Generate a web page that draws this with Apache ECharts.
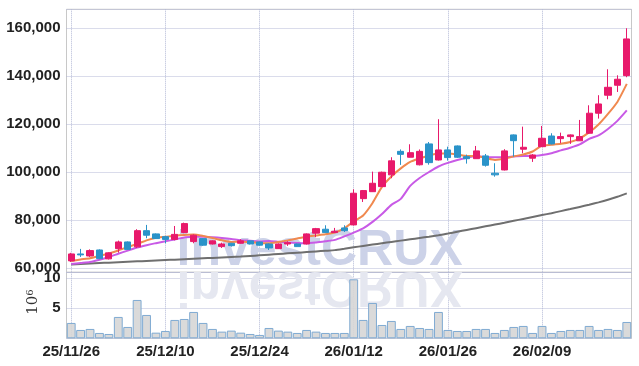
<!DOCTYPE html>
<html>
<head>
<meta charset="utf-8">
<script src="https://cdn.jsdelivr.net/npm/echarts@6/dist/echarts.min.js"></script>
<style>
  html, body { margin: 0; padding: 0; background: #fff; }
  #chart { width: 639px; height: 366px; }
</style>
</head>
<body>
<div id="chart"></div>
<script>
// trading days (YY/MM/DD)
var dates = [
  '25/11/26','25/11/27','25/11/28','25/12/01','25/12/02','25/12/03','25/12/04','25/12/05','25/12/08','25/12/09',
  '25/12/10','25/12/11','25/12/12','25/12/15','25/12/16','25/12/17','25/12/18','25/12/19','25/12/22','25/12/23',
  '25/12/24','25/12/26','25/12/29','25/12/30','26/01/02','26/01/05','26/01/06','26/01/07','26/01/08','26/01/09',
  '26/01/12','26/01/13','26/01/14','26/01/15','26/01/16','26/01/19','26/01/20','26/01/21','26/01/22','26/01/23',
  '26/01/26','26/01/27','26/01/28','26/01/29','26/01/30','26/02/02','26/02/03','26/02/04','26/02/05','26/02/06',
  '26/02/09','26/02/10','26/02/11','26/02/12','26/02/13','26/02/19','26/02/20','26/02/23','26/02/24','26/02/25'
];

var opens = [
  63050, 65950, 65100, 67600, 63900, 68150, 70950, 68900, 75650, 74300,
  73150, 72000, 74850, 71100, 72350, 70100, 69000, 70400, 70400, 71400,
  70950, 70100, 68150, 70100, 70100, 70100, 74600, 76250, 74850, 76800,
  78050, 89000, 91900, 94000, 98900, 108700, 106250, 103100, 111800, 105100,
  109300, 110950, 106500, 105650, 106800, 99600, 100950, 115550, 109600, 105850,
  110650, 115100, 114000, 114850, 113100, 116250, 124600, 132100, 136250, 140250
];
var closes = [
  65950, 65550, 67350, 64000, 66400, 70950, 67850, 75650, 73750, 72350,
  72000, 74100, 78600, 73750, 69600, 71400, 70100, 69400, 71400, 70100,
  69600, 68450, 70100, 70650, 69000, 74300, 76500, 74850, 75400, 75650,
  91250, 92350, 95400, 100000, 104750, 107450, 108150, 108700, 104000, 109300,
  106100, 106250, 105650, 108900, 102900, 98900, 108900, 113150, 110400, 107200,
  114150, 111800, 114850, 115550, 114850, 124600, 128450, 135400, 138750, 155550
];
var lows = [
  62600, 64700, 64700, 63750, 63650, 66500, 67600, 68450, 72500, 72200,
  70400, 71600, 74600, 70400, 69300, 69900, 68450, 69000, 70250, 69900,
  69400, 67600, 68050, 69300, 68900, 69900, 72900, 74700, 74700, 75100,
  77850, 87600, 91800, 93850, 97500, 103050, 106150, 102850, 103150, 104900,
  104850, 105950, 103600, 105550, 102350, 98150, 100750, 106500, 107900, 104300,
  110550, 111600, 112100, 111800, 113050, 115950, 122350, 130400, 133450, 139600
];
var highs = [
  66400, 68050, 67850, 67850, 66600, 71500, 71150, 76250, 78050, 74500,
  73450, 77600, 79000, 74100, 72600, 71600, 70650, 70550, 72100, 71500,
  71100, 70350, 70350, 71250, 70250, 74500, 76800, 77900, 76800, 77900,
  92900, 92600, 100250, 100250, 106250, 109500, 111650, 109500, 112600, 122100,
  110650, 111150, 107350, 110950, 107600, 103750, 109600, 115750, 119000, 107600,
  119300, 116250, 116500, 115750, 121800, 127900, 132100, 142900, 140400, 160000
];

// moving averages
var maShort = [
  63050, 63650, 64200, 65100, 66100, 67400, 68900, 70100, 71600, 72700,
  73100, 73550, 73850, 74050, 73450, 72600, 71650, 70900, 71150, 70800,
  70550, 70400, 70950, 71600, 72400, 73150, 73650, 74150, 74900, 76600,
  79500, 82000, 87200, 93900, 98250, 101600, 104300, 105750, 107000, 107850,
  107800, 107400, 106800, 106800, 105950, 105150, 105600, 106600, 107400, 108650,
  111100, 111450, 111850, 112600, 114100, 116600, 119900, 124300, 129300, 136800
];
var maMid = [
  61800, 62200, 62600, 63550, 64700, 66050, 67350, 68650, 69600, 70450,
  71200, 72000, 72850, 73100, 73150, 72900, 72600, 72200, 71650, 71450,
  71150, 71350, 71050, 70750, 70550, 70400, 70750, 71250, 71800, 73250,
  74850, 76600, 79300, 82600, 86400, 88900, 94300, 97600, 100100, 102400,
  103900, 105100, 106050, 106650, 106400, 106250, 106250, 106600, 106800, 106800,
  107200, 107950, 109100, 110200, 111600, 113900, 115350, 118050, 121400, 125750
];
var maLong = [
  61600, 61780, 61960, 62140, 62320, 62500, 62680, 62860, 63040, 63220,
  63400, 63580, 63760, 63940, 64120, 64300, 64480, 64660, 64840, 65110,
  65380, 65650, 65920, 66190, 66460, 66730, 67000, 67270, 67540, 68100,
  68700, 69300, 69850, 70400, 70950, 71500, 72050, 72600, 73150, 73750,
  74450, 75200, 75950, 76700, 77450, 78200, 78950, 79750, 80550, 81350,
  82150, 82950, 83800, 84650, 85550, 86450, 87450, 88550, 89800, 91200
];

// volume, in millions
var volumes = [
  2.56, 1.39, 1.56, 0.89, 0.72, 3.56, 1.89, 6.39, 3.89, 0.94,
  1.22, 3.06, 3.22, 4.39, 2.56, 1.56, 1.11, 1.28, 0.94, 0.72,
  0.56, 1.72, 1.28, 1.11, 0.89, 1.39, 1.11, 0.89, 0.89, 0.89,
  9.83, 3.06, 5.89, 2.22, 2.89, 1.56, 2.06, 1.72, 1.56, 4.39,
  1.39, 1.22, 1.22, 1.56, 1.56, 0.89, 1.39, 1.89, 2.06, 0.89,
  2.06, 0.89, 1.22, 1.39, 1.39, 2.06, 1.39, 1.56, 1.39, 2.72
];

var candles = opens.map(function (o, i) {
  return [o, closes[i], lows[i], highs[i]];
});

var upColor = '#e8196b';
var downColor = '#2a93c9';
var gridLine = '#b4b9d6';
var frame = '#c8c8c8';
var labelFont = {
  color: '#222',
  fontFamily: '"Liberation Sans Narrow", "Liberation Sans", sans-serif',
  fontWeight: 'bold',
  fontSize: 15
};

var chart = echarts.init(document.getElementById('chart'));

var option = {
  animation: false,
  backgroundColor: '#fff',
  grid: [
    { left: 66.5, right: 7.5, top: 9.3, height: 263, show: true, borderColor: frame, borderWidth: 1, backgroundColor: 'transparent' },
    { left: 66.5, right: 7.5, top: 272.3, height: 66, show: true, borderColor: frame, borderWidth: 1, backgroundColor: 'transparent' }
  ],
  graphic: [
    {
      type: 'text', z: 1, x: 176.5, y: 268.3, scaleY: -1,
      style: { text: 'investCRUX', x: 0, y: -17.5, verticalAlign: 'middle', fill: '#e5e7f0',
        font: 'bold 50px "Liberation Sans", sans-serif' }
    },
    {
      type: 'text', z: 1, x: 176.5, y: 268.3,
      style: { text: 'investCRUX', x: 0, y: -17.5, verticalAlign: 'middle', fill: '#ccd2e8',
        font: 'bold 50px "Liberation Sans", sans-serif' }
    },
    {
      // volume unit, written bottom-to-top
      type: 'text', z: 10, x: 33, y: 302, rotation: Math.PI / 2,
      style: {
        text: '10{s|6}', align: 'center', verticalAlign: 'middle',
        fill: '#333', font: '15px "DejaVu Serif", serif',
        rich: { s: { fontSize: 10, verticalAlign: 'top', fontFamily: '"DejaVu Serif", serif', fill: '#333' } }
      }
    }
  ],
  xAxis: [
    {
      type: 'category', gridIndex: 0, data: dates, boundaryGap: true,
      axisLine: { show: false }, axisTick: { show: false }, axisLabel: { show: false },
      splitLine: { show: true, interval: 9, alignWithLabel: true, lineStyle: { color: gridLine, type: 'dotted' } }
    },
    {
      type: 'category', gridIndex: 1, data: dates, boundaryGap: true,
      axisLine: { show: false }, axisTick: { show: false },
      axisLabel: Object.assign({ interval: 9, margin: 6 }, labelFont),
      splitLine: { show: true, interval: 9, alignWithLabel: true, lineStyle: { color: gridLine, type: 'dotted' } }
    }
  ],
  yAxis: [
    {
      type: 'value', gridIndex: 0, min: 58300, max: 167900, splitNumber: 5,
      axisLine: { show: false }, axisTick: { show: false },
      axisLabel: Object.assign({ showMinLabel: false, showMaxLabel: false, margin: 6 }, labelFont),
      splitLine: { lineStyle: { color: gridLine, type: 'dotted' } }
    },
    {
      type: 'value', gridIndex: 1, min: 0, max: 11, interval: 5,
      axisLine: { show: false }, axisTick: { show: false },
      axisLabel: Object.assign({ showMinLabel: false, showMaxLabel: false, margin: 6 }, labelFont),
      splitLine: { lineStyle: { color: gridLine, type: 'dotted' } }
    }
  ],
  series: [
    {
      name: 'Volume', type: 'bar', xAxisIndex: 1, yAxisIndex: 1, data: volumes,
      barWidth: '94%',
      itemStyle: { color: 'rgba(214,214,214,0.9)', borderColor: '#7faad2', borderWidth: 1 }
    },
    {
      name: 'Long MA', type: 'line', data: maLong, showSymbol: false, smooth: 0.2,
      lineStyle: { color: '#6f6f6f', width: 2 }, z: 3
    },
    {
      name: 'Mid MA', type: 'line', data: maMid, showSymbol: false, smooth: 0.2,
      lineStyle: { color: '#c85ae6', width: 2 }, z: 3
    },
    {
      name: 'Short MA', type: 'line', data: maShort, showSymbol: false, smooth: 0.2,
      lineStyle: { color: '#f0894f', width: 2 }, z: 4
    },
    {
      name: 'Price', type: 'candlestick', data: candles, barWidth: '70%', z: 5,
      itemStyle: { color: upColor, color0: downColor, borderColor: upColor, borderColor0: downColor, borderWidth: 1 }
    }
  ]
};

chart.setOption(option);
</script>
</body>
</html>
